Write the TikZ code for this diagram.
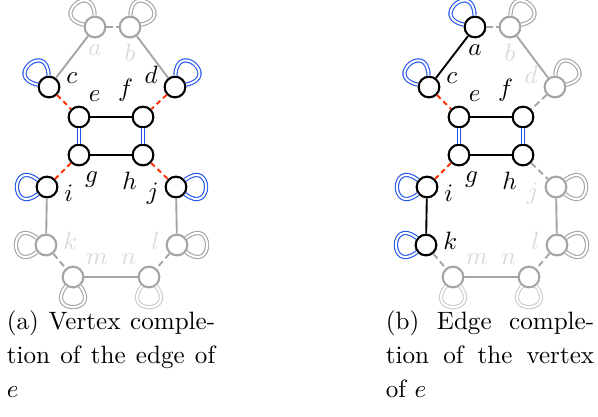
\documentclass[tikz,border=0pt]{standalone}
\usepackage{amsmath}

\definecolor{azul}{RGB}{35,85,235}
\definecolor{rojo}{RGB}{255,45,0}
\definecolor{gris}{RGB}{165,165,165}
\definecolor{grisl}{RGB}{205,205,205}
\definecolor{grisc}{RGB}{218,218,218}

\begin{document}
\begin{tikzpicture}[x=0.014cm,y=-0.014cm,line width=0.75pt,
  v/.style={circle,draw=black,fill=white,line width=0.85pt,minimum size=0.29cm,inner sep=0pt},
  vg/.style={v,draw=gris},
  lab/.style={inner sep=0.5pt},
  labg/.style={lab,text=grisc},
  every label/.style={label distance=1.5pt},
  eg/.style={gris},
  rd/.style={rojo,dash pattern=on 2pt off 1.5pt},
  gd/.style={gris,dash pattern=on 2.5pt off 1.5pt},
  db/.style={azul,double=white,line width=0.45pt,double distance=0.7pt},
  lb/.style={azul,double=white,line width=0.45pt,double distance=0.8pt,distance=0.5cm},
  lg/.style={lb,draw=gris},
  ll/.style={lb,draw=grisl}]
  \useasboundingbox (0,0) rectangle (598,416);

  % completacion de vertices (izquierda)
  \node[vg,label={[labg]-90:$a$}] (La) at (95,27) {};
  \node[vg,label={[labg]-90:$b$}] (Lb) at (130,27) {};
  \node[v,label={[lab]5:$c$}] (Lc) at (49,87) {};
  \node[v,label={[lab]175:$d$}] (Ld) at (175,87) {};
  \node[v,label={[lab]60:$e$}] (Le) at (79,117) {};
  \node[v,label={[lab]120:$f$}] (Lf) at (143,117) {};
  \node[v,label={[lab]-75:$g$}] (Lg) at (79,155) {};
  \node[v,label={[lab]-105:$h$}] (Lh) at (143,155) {};
  \node[v,label={[lab,yshift=-2.5pt]right:$i$}] (Li) at (47,187) {};
  \node[v,label={[lab,yshift=-2.5pt]left:$j$}] (Lj) at (176,187) {};
  \node[vg,label={[labg,yshift=1.5pt]right:$k$}] (Lk) at (46,245) {};
  \node[vg,label={[labg,yshift=1.5pt]left:$l$}] (Ll) at (177,245) {};
  \node[vg,label={[labg]45:$m$}] (Lm) at (73,277) {};
  \node[vg,label={[labg]135:$n$}] (Ln) at (149,277) {};
  \draw[gd] (La) -- (Lb);
  \draw[eg] (La) -- (Lc);
  \draw[eg] (Lb) -- (Ld);
  \draw[rd] (Lc) -- (Le);
  \draw[rd] (Ld) -- (Lf);
  \draw (Le) -- (Lf);
  \draw (Lg) -- (Lh);
  \draw[db] (Le) -- (Lg);
  \draw[db] (Lf) -- (Lh);
  \draw[rd] (Lg) -- (Li);
  \draw[rd] (Lh) -- (Lj);
  \draw[eg] (Li) -- (Lk);
  \draw[eg] (Lj) -- (Ll);
  \draw[gd] (Lk) -- (Lm);
  \draw[gd] (Ll) -- (Ln);
  \draw[eg] (Lm) -- (Ln);
  % lazos
  \draw[lg] (La) to[out=92,in=168] (La);
  \draw[lg] (Lb) to[out=12,in=88] (Lb);
  \draw[lb] (Lc) to[out=92,in=168] (Lc);
  \draw[lb] (Ld) to[out=12,in=88] (Ld);
  \draw[lb] (Li) to[out=142,in=218] (Li);
  \draw[lb] (Lj) to[out=-38,in=38] (Lj);
  \draw[lg] (Lk) to[out=142,in=218] (Lk);
  \draw[lg] (Ll) to[out=-38,in=38] (Ll);
  \draw[lg] (Lm) to[out=-52,in=-128] (Lm);
  \draw[ll] (Ln) to[out=-52,in=-128] (Ln);

  % completacion de aristas (derecha)
  \node[v,label={[lab]-90:$a$}] (Ra) at (475,27) {};
  \node[vg,label={[labg]-90:$b$}] (Rb) at (510,27) {};
  \node[v,label={[lab]5:$c$}] (Rc) at (429,87) {};
  \node[vg,label={[labg]175:$d$}] (Rd) at (555,87) {};
  \node[v,label={[lab]60:$e$}] (Re) at (459,117) {};
  \node[v,label={[lab]120:$f$}] (Rf) at (523,117) {};
  \node[v,label={[lab]-75:$g$}] (Rg) at (459,155) {};
  \node[v,label={[lab]-105:$h$}] (Rh) at (523,155) {};
  \node[v,label={[lab,yshift=-2.5pt]right:$i$}] (Ri) at (427,187) {};
  \node[vg,label={[labg,yshift=-2.5pt]left:$j$}] (Rj) at (556,187) {};
  \node[v,label={[lab,yshift=1.5pt]right:$k$}] (Rk) at (426,245) {};
  \node[vg,label={[labg,yshift=1.5pt]left:$l$}] (Rl) at (557,245) {};
  \node[vg,label={[labg]45:$m$}] (Rm) at (453,277) {};
  \node[vg,label={[labg]135:$n$}] (Rn) at (529,277) {};
  \draw[gd] (Ra) -- (Rb);
  \draw (Ra) -- (Rc);
  \draw[eg] (Rb) -- (Rd);
  \draw[rd] (Rc) -- (Re);
  \draw[gd] (Rd) -- (Rf);
  \draw (Re) -- (Rf);
  \draw (Rg) -- (Rh);
  \draw[db] (Re) -- (Rg);
  \draw[db] (Rf) -- (Rh);
  \draw[rd] (Rg) -- (Ri);
  \draw[gd] (Rh) -- (Rj);
  \draw (Ri) -- (Rk);
  \draw[eg] (Rj) -- (Rl);
  \draw[gd] (Rk) -- (Rm);
  \draw[gd] (Rl) -- (Rn);
  \draw[eg] (Rm) -- (Rn);
  % lazos
  \draw[lb] (Ra) to[out=92,in=168] (Ra);
  \draw[lg] (Rb) to[out=12,in=88] (Rb);
  \draw[lb] (Rc) to[out=92,in=168] (Rc);
  \draw[lg] (Rd) to[out=12,in=88] (Rd);
  \draw[lb] (Ri) to[out=142,in=218] (Ri);
  \draw[lg] (Rj) to[out=-38,in=38] (Rj);
  \draw[lb] (Rk) to[out=142,in=218] (Rk);
  \draw[lg] (Rl) to[out=-38,in=38] (Rl);
  \draw[ll] (Rm) to[out=-52,in=-128] (Rm);
  \draw[ll] (Rn) to[out=-52,in=-128] (Rn);

  % leyendas
  \node[anchor=north west,text width=83pt,align=justify,inner sep=0pt,
    font=\fontsize{10}{13.5}\selectfont] (capa) at (6,310)
    {(a) Vertex comple-\linebreak tion of the edge of\linebreak $e$};
  \node[anchor=north west,text width=83pt,align=justify,inner sep=0pt,
    font=\fontsize{10}{13.5}\selectfont] (capb) at (385,310)
    {(b) Edge comple-\linebreak tion of the vertex\linebreak of $e$};
\end{tikzpicture}
\end{document}
